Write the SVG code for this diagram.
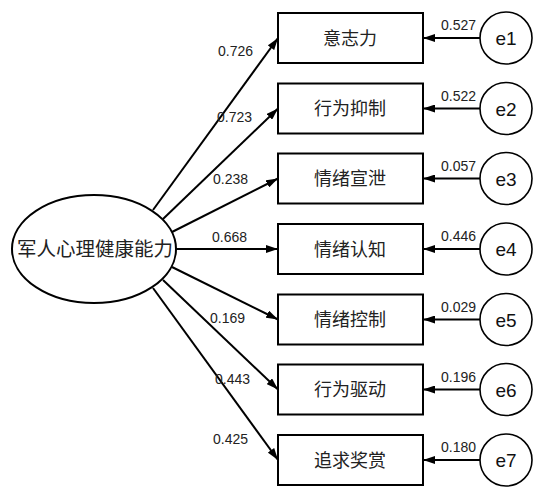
<svg xmlns="http://www.w3.org/2000/svg" width="546" height="500" viewBox="0 0 546 500">
<style>
.box{fill:#fff;stroke:#000;stroke-width:2}
.circ{fill:#fff;stroke:#000;stroke-width:1.6}
.ell{fill:#fff;stroke:#000;stroke-width:2}
.line{stroke:#000;stroke-width:2;fill:none;marker-end:url(#arr)}
.cn{font-family:"Liberation Sans","Noto Sans CJK SC",sans-serif;font-size:18px;text-anchor:middle;fill:#222}
.num{font-family:"Liberation Sans",Arial,sans-serif;font-size:14px;fill:#222}
.e{font-family:"Liberation Sans",Arial,sans-serif;font-size:19px;text-anchor:middle;fill:#111}
</style>
<defs>
<marker id="arr" viewBox="0 0 12 8" refX="12" refY="4" markerWidth="12" markerHeight="8" markerUnits="userSpaceOnUse" orient="auto">
<path d="M0,0 L12,4 L0,8 Z" fill="#000"/>
</marker>
</defs>
<rect width="546" height="500" fill="#fff"/>
<g id="connectors">
<line class="line" x1="153" y1="210" x2="278" y2="38"/>
<line class="line" x1="163" y1="219" x2="278" y2="108.5"/>
<line class="line" x1="172" y1="232" x2="278" y2="178.5"/>
<line class="line" x1="176" y1="249" x2="278" y2="249"/>
<line class="line" x1="172" y1="267" x2="278" y2="319.5"/>
<line class="line" x1="163" y1="280" x2="278" y2="389.5"/>
<line class="line" x1="153" y1="288" x2="278" y2="460"/>
<line class="line" x1="480" y1="38" x2="423" y2="38"/>
<line class="line" x1="480" y1="108.5" x2="423" y2="108.5"/>
<line class="line" x1="480" y1="178.5" x2="423" y2="178.5"/>
<line class="line" x1="480" y1="249" x2="423" y2="249"/>
<line class="line" x1="480" y1="319.5" x2="423" y2="319.5"/>
<line class="line" x1="480" y1="389.5" x2="423" y2="389.5"/>
<line class="line" x1="480" y1="460" x2="423" y2="460"/>
<text class="num" x="218" y="56">0.726</text>
<text class="num" x="217" y="122">0.723</text>
<text class="num" x="213" y="184">0.238</text>
<text class="num" x="212" y="242">0.668</text>
<text class="num" x="210" y="323">0.169</text>
<text class="num" x="215" y="384">0.443</text>
<text class="num" x="213" y="444">0.425</text>
<text class="num" x="441" y="30">0.527</text>
<text class="num" x="441" y="100.5">0.522</text>
<text class="num" x="441" y="170.5">0.057</text>
<text class="num" x="441" y="241">0.446</text>
<text class="num" x="441" y="311.5">0.029</text>
<text class="num" x="441" y="381.5">0.196</text>
<text class="num" x="441" y="452">0.180</text>
</g>
<g id="latent">
<ellipse class="ell" cx="94" cy="249" rx="82" ry="54"/>
<text class="cn" x="95" y="256" style="font-size:19.5px">军人心理健康能力</text>
</g>
<g id="n1"><rect class="box" x="278" y="13" width="145" height="50"/><text class="cn" x="350" y="44.5">意志力</text></g>
<g id="n2"><rect class="box" x="278" y="83.5" width="145" height="50"/><text class="cn" x="350" y="115">行为抑制</text></g>
<g id="n3"><rect class="box" x="278" y="153.5" width="145" height="50"/><text class="cn" x="350" y="185">情绪宣泄</text></g>
<g id="n4"><rect class="box" x="278" y="224" width="145" height="50"/><text class="cn" x="350" y="255.5">情绪认知</text></g>
<g id="n5"><rect class="box" x="278" y="294.5" width="145" height="50"/><text class="cn" x="350" y="326">情绪控制</text></g>
<g id="n6"><rect class="box" x="278" y="364.5" width="145" height="50"/><text class="cn" x="350" y="396">行为驱动</text></g>
<g id="n7"><rect class="box" x="278" y="435" width="145" height="50"/><text class="cn" x="350" y="466.5">追求奖赏</text></g>
<g id="e1"><circle class="circ" cx="506" cy="38" r="26"/><text class="e" x="506" y="45">e1</text></g>
<g id="e2"><circle class="circ" cx="506" cy="108.5" r="26"/><text class="e" x="506" y="115.5">e2</text></g>
<g id="e3"><circle class="circ" cx="506" cy="178.5" r="26"/><text class="e" x="506" y="185.5">e3</text></g>
<g id="e4"><circle class="circ" cx="506" cy="249" r="26"/><text class="e" x="506" y="256">e4</text></g>
<g id="e5"><circle class="circ" cx="506" cy="319.5" r="26"/><text class="e" x="506" y="326.5">e5</text></g>
<g id="e6"><circle class="circ" cx="506" cy="389.5" r="26"/><text class="e" x="506" y="396.5">e6</text></g>
<g id="e7"><circle class="circ" cx="506" cy="460" r="26"/><text class="e" x="506" y="467">e7</text></g>
</svg>
